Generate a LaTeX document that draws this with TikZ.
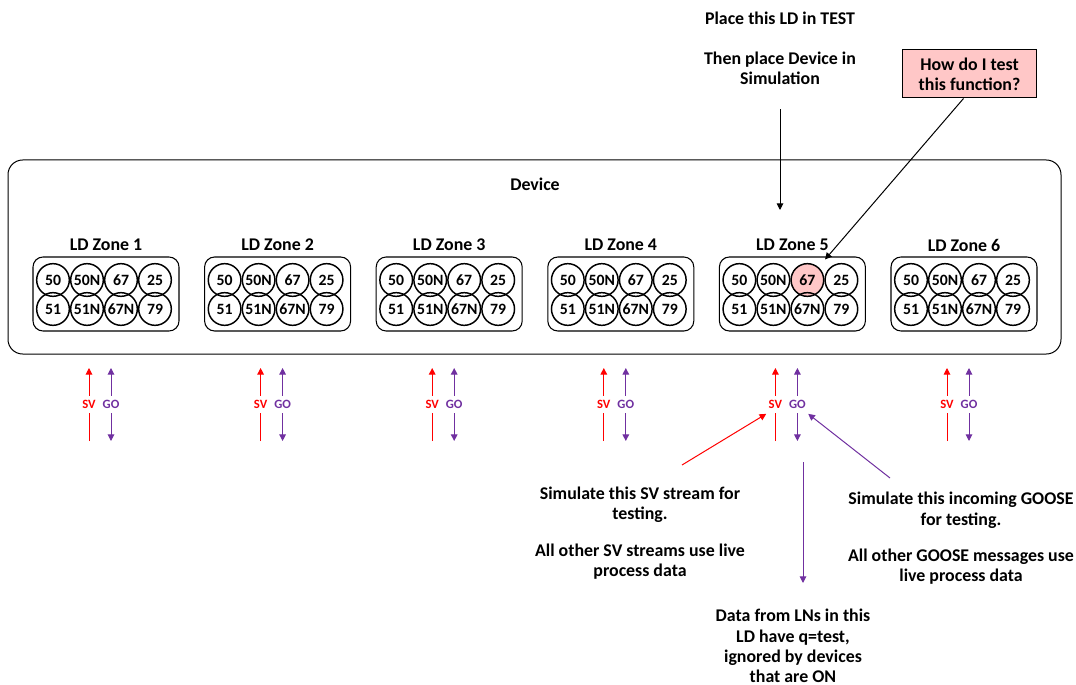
\documentclass[tikz,border=0pt]{standalone}
\usepackage{fontspec}
\setmainfont{Carlito}
\usetikzlibrary{arrows.meta}
\definecolor{svred}{RGB}{255,0,0}
\definecolor{gopurple}{RGB}{112,48,160}
\definecolor{testpink}{RGB}{255,199,199}
\tikzset{
  lbl/.style={font=\fontsize{13.4}{15.2}\selectfont\bfseries, align=center, inner sep=0pt},
  fn/.style={circle, draw, line width=1.1pt, minimum size=24.5pt, inner sep=0pt, font=\fontsize{11.8}{13}\selectfont\bfseries},
  zonebox/.style={draw, rounded corners=7.5pt, minimum width=109.5pt, minimum height=55.5pt, line width=0.8pt},
  arr/.style={-{Triangle[length=5pt,width=5pt]}, line width=0.75pt},
  svline/.style={arr, svred},
  goline/.style={{Triangle[length=5pt,width=5pt]}-{Triangle[length=5pt,width=5pt]}, line width=0.75pt, gopurple},
  sgtag/.style={font=\fontsize{9.5}{10}\selectfont\bfseries, fill=white, inner xsep=1.5pt, inner ysep=3.5pt}
}
\begin{document}
\begin{tikzpicture}[x=0.75pt,y=-0.75pt]
\useasboundingbox (0,0) rectangle (1076,685);

\node[draw, rounded corners=11pt, minimum width=789.75pt, minimum height=145.5pt, line width=0.75pt] (device) at (534.5,257) {};
\node[lbl] (devlbl) at (535,184) {Device};

\foreach \i in {1,...,6}{
  \pgfmathsetmacro\cx{106+171.6*(\i-1)}
  \node[lbl] (zl\i) at (\cx,245) {LD Zone \i};
  \node[zonebox] (zb\i) at (\cx,294) {};
  \foreach \fa/\fb [count=\j] in {50/51,50N/51N,67/67N,25/79}{
    \ifnum\i\j=53 \def\fc{testpink}\else\def\fc{none}\fi
    \node[fn,fill=\fc] (z\i-a\j) at ({\cx-87+34*\j},280) {\fa};
    \node[fn] (z\i-b\j) at ({\cx-87+34*\j},309) {\fb};
  }
  \draw[svline] ({\cx-17},441) -- node[sgtag,text=svred] (sv\i) {SV} ({\cx-17},368);
  \draw[goline] ({\cx+5},368) -- node[sgtag,text=gopurple] (go\i) {GO} ({\cx+5},441);
}

% notes above the device
\node[lbl] (place) at (780,48.5) {Place this LD in TEST\\[15pt]Then place Device in\\Simulation};
\coordinate (ldin) at (780,210);
\draw[arr] ([yshift=-18pt]place.south) -- (ldin);

\node[draw, fill=testpink, minimum width=101pt, minimum height=36pt, lbl, line width=0.75pt] (ask) at (969.5,74) {How do I test\\this function?};
\draw[arr, shorten >=7.5pt] ([xshift=-4.5pt]ask.south) -- (z5-a3);

% notes below the device
\node[lbl] (svnote) at (640,533) {Simulate this SV stream for\\testing.\\[12pt]All other SV streams use live\\process data};
\node[lbl] (gonote) at (961,538.5) {Simulate this incoming GOOSE\\for testing.\\[12pt]All other GOOSE messages use\\live process data};
\node[lbl] (datanote) at (793,646) {Data from LNs in this\\LD have q=test,\\ignored by devices\\that are ON};

\coordinate (svtail) at (682,465);
\draw[arr, svred] (svtail) -- (sv5.south west);
\coordinate (gotail) at (890,478);
\draw[arr, gopurple] (gotail) -- (go5.south east);
\coordinate (lntail) at (803,462);
\coordinate (lnhead) at (803,583);
\draw[arr, gopurple] (lntail) -- (lnhead);
\end{tikzpicture}
\end{document}
